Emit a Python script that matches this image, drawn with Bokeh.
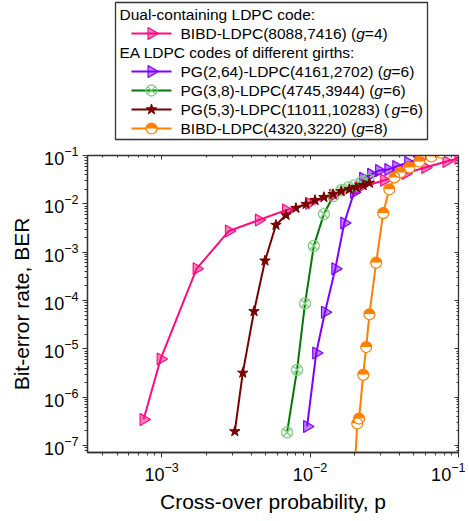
import math
from bokeh.plotting import figure
from bokeh.layouts import column
from bokeh.models import Range1d, FixedTicker, LogAxis, LogTickFormatter
from bokeh.core.properties import value
from bokeh.embed import file_html
from bokeh.resources import INLINE

FONT = "Liberation Sans"
AXC = "#333333"

# ---------------- data ----------------
bibd4_x = [7.55e-4, 9.84e-4, 1.72e-3, 2.84e-3, 4.52e-3, 6.89e-3, 9.84e-3, 1.43e-2,
           2.11e-2, 3.16e-2, 4.4e-2, 5.98e-2, 8.3e-2, 1.0e-1]
bibd4_y = [3.45e-7, 6.18e-6, 4.56e-4, 2.75e-3, 4.63e-3, 7.43e-3, 1.03e-2, 1.51e-2,
           2.1e-2, 3.07e-2, 4.27e-2, 5.67e-2, 7.53e-2, 8.8e-2]

pg264_x = [9.55e-3, 1.1e-2, 1.26e-2, 1.48e-2, 1.7e-2, 1.98e-2, 2.28e-2, 2.58e-2,
           2.92e-2, 3.37e-2, 3.81e-2, 4.59e-2, 5.37e-2]
pg264_y = [2.48e-7, 8.2e-6, 5.7e-5, 4.56e-4, 4.02e-3, 1.74e-2, 3.37e-2, 4.07e-2,
           4.92e-2, 5.16e-2, 5.94e-2, 7.18e-2, 8.28e-2]

pg38_x = [7.0e-3, 8.17e-3, 9.25e-3, 1.06e-2, 1.24e-2, 1.43e-2, 1.62e-2, 1.81e-2,
          1.98e-2, 2.21e-2, 2.47e-2]
pg38_y = [1.87e-7, 3.67e-6, 8.71e-5, 1.35e-3, 6.15e-3, 1.44e-2, 1.91e-2, 2.2e-2,
          2.42e-2, 2.79e-2, 3.21e-2]

pg53_x = [3.11e-3, 3.52e-3, 4.19e-3, 4.97e-3, 5.89e-3, 6.89e-3, 8.03e-3, 9.4e-3,
          1.08e-2, 1.24e-2, 1.43e-2, 1.62e-2, 1.84e-2, 2.05e-2, 2.28e-2, 2.51e-2]
pg53_y = [1.96e-7, 3.18e-6, 5.97e-5, 6.65e-4, 3.65e-3, 5.86e-3, 8.16e-3, 9.86e-3,
          1.19e-2, 1.37e-2, 1.58e-2, 1.82e-2, 2.0e-2, 2.2e-2, 2.42e-2, 2.7e-2]

bibd8_x = [2.01e-2, 2.08e-2, 2.14e-2, 2.28e-2, 2.39e-2, 2.51e-2, 2.79e-2, 3.11e-2,
           3.42e-2, 3.7e-2, 4.06e-2, 4.67e-2, 5.45e-2, 6.58e-2, 7.67e-2]
bibd8_y = [4.0e-8, 2.86e-7, 3.62e-7, 2.9e-6, 1.09e-5, 5.19e-5, 6.06e-4, 6.44e-3,
           2.0e-2, 3.53e-2, 4.48e-2, 5.67e-2, 7.53e-2, 9.55e-2, 0.115]

x_major = [1e-3, 1e-2, 1e-1]
y_major = [1e-7, 1e-6, 1e-5, 1e-4, 1e-3, 1e-2, 1e-1]

legend_headers = ["Dual-containing LDPC code:", "EA LDPC codes of different girths:"]
legend_names = ["BIBD-LDPC(8088,7416) (", "PG(2,64)-LDPC(4161,2702) (",
                "PG(3,8)-LDPC(4745,3944) (", "PG(5,3)-LDPC(11011,10283) (",
                "BIBD-LDPC(4320,3220) ("]
legend_girth = ["=4)", "=6)", "=6)", "=6)", "=8)"]

x_title = "Cross-over probability, p"
y_title = "Bit-error rate, BER"

# ---------------- styles ----------------
PINK, PURPLE, GREEN, LGREEN, BROWN, ORANGE = ("#ff0a80", "#8000ff", "#007a00",
                                             "#7fcf7f", "#7a0000", "#ff8000")
series = [
    (bibd4_x, bibd4_y, PINK, "tri"),
    (pg264_x, pg264_y, PURPLE, "tri"),
    (pg38_x, pg38_y, GREEN, "xbox"),
    (pg53_x, pg53_y, BROWN, "star"),
    (bibd8_x, bibd8_y, ORANGE, "half"),
]

# Arial / Liberation Sans advance widths (1/1000 em) for text layout
AW = {' ': 278, '(': 333, ')': 333, ',': 278, '-': 333, '.': 278, ':': 278, '=': 584,
      'A': 667, 'B': 667, 'C': 722, 'D': 722, 'E': 667, 'G': 778, 'I': 278, 'L': 556,
      'P': 667, 'R': 722, 'a': 556, 'b': 556, 'c': 500, 'd': 556, 'e': 556, 'f': 278,
      'g': 556, 'h': 556, 'i': 222, 'l': 222, 'n': 556, 'o': 556, 'p': 556, 'r': 333,
      's': 500, 't': 278, 'u': 556, 'v': 500, 'y': 500}
for d in "0123456789":
    AW[d] = 556


def tw(s, fs):
    return sum(AW.get(c, 556) for c in s) / 1000.0 * fs


def draw_marker(fig, kind, x, y, color, size=12):
    if kind == "tri":
        fig.scatter(x, y, marker="triangle", angle=-math.pi / 2, size=size,
                    fill_color=color, fill_alpha=0.5, line_color=color, line_width=1.2)
    elif kind == "xbox":
        fig.scatter(x, y, marker="circle_x", size=11, fill_color=None,
                    line_color=LGREEN, line_width=1.3)
    elif kind == "star":
        fig.scatter(x, y, marker="star", size=11, fill_color=color,
                    line_color=color, line_width=1)
    elif kind == "half":
        fig.wedge(x, y, radius=5.5, radius_units="screen", start_angle=0,
                  end_angle=math.pi, fill_color=color, line_color=None)
        fig.wedge(x, y, radius=5.5, radius_units="screen", start_angle=math.pi,
                  end_angle=2 * math.pi, fill_color="white", line_color=None)
        fig.scatter(x, y, marker="circle", size=11, fill_color=None,
                    line_color=color, line_width=1.2)


# page geometry (frames of the stacked figures share the same columns)
W = 465
FL, FR = 87, 7           # left / right borders -> frame spans x = 87 .. 458
XR = (FL, W - FR)        # data x in the legend figure == page x
LH = 143                 # legend figure height
MAIN_H = 378             # legend + main = 521
FRAME_T, FRAME_H = 12, 297

# ---------------- legend figure ----------------
lg = figure(width=W, height=LH, x_range=Range1d(*XR), y_range=Range1d(0, LH),
            x_axis_type=None, y_axis_type=None, output_backend="svg",
            toolbar_location=None, min_border_left=FL, min_border_right=FR,
            min_border_top=0, min_border_bottom=0, outline_line_color=None)
lg.quad(left=115, right=427, top=LH - 2, bottom=LH - 139, fill_color=None,
        line_color=AXC, line_width=1.3)
rows = [LH - (14 + 19 * i) for i in range(7)]
LFS = 15.5
lg.text(x=[119, 119], y=[rows[0], rows[2]], text=legend_headers,
        text_font=value(FONT), text_font_size=f"{LFS}px", text_baseline="middle",
        text_color="black")
entry_rows = [rows[1], rows[3], rows[4], rows[5], rows[6]]
tx0 = 180
g_x = [tx0 + tw(n, LFS) for n in legend_names]
e_x = [gx + tw("g", LFS) for gx in g_x]
lg.text(x=[tx0] * 5, y=entry_rows, text=legend_names, text_font=value(FONT),
        text_font_size=f"{LFS}px", text_baseline="middle", text_color="black")
lg.text(x=g_x, y=entry_rows, text=["g"] * 5, text_font=value(FONT),
        text_font_style="italic", text_font_size=f"{LFS}px", text_baseline="middle",
        text_color="black")
lg.text(x=e_x, y=entry_rows, text=legend_girth, text_font=value(FONT),
        text_font_size=f"{LFS}px", text_baseline="middle", text_color="black")
for (sx, sy, color, kind), ry in zip(series, entry_rows):
    lg.line([131, 171], [ry, ry], line_color=color, line_width=2)
    draw_marker(lg, kind, [151], [ry], color)

# ---------------- main figure ----------------
LX0, LX1 = -3.5, math.log10(0.1001)
LY0, LY1 = -7.144, math.log10(0.1001)
x_minor = [k * 10.0 ** e for e in range(-4, -1) for k in range(2, 10)
           if 10 ** LX0 <= k * 10.0 ** e <= 0.1]
y_minor = [k * 10.0 ** e for e in range(-8, -1) for k in range(2, 10)
           if 10 ** LY0 <= k * 10.0 ** e <= 0.1]

p = figure(width=W, height=MAIN_H, x_axis_type="log", y_axis_type="log",
           x_range=Range1d(10 ** LX0, 10 ** LX1), y_range=Range1d(10 ** LY0, 10 ** LY1),
           output_backend="svg", toolbar_location=None,
           min_border_left=FL, min_border_right=FR, min_border_top=FRAME_T,
           min_border_bottom=MAIN_H - FRAME_T - FRAME_H)
p.grid.visible = False
p.outline_line_color = AXC
p.outline_line_width = 1.3

for ax, maj, mnr in ((p.xaxis[0], x_major, x_minor), (p.yaxis[0], y_major, y_minor)):
    ax.ticker = FixedTicker(ticks=maj, minor_ticks=mnr)
    ax.formatter = LogTickFormatter()
    ax.axis_line_color = AXC
    ax.axis_line_width = 1.3
    ax.major_tick_line_color = AXC
    ax.minor_tick_line_color = AXC
    ax.major_tick_out = 5
    ax.major_tick_in = 0
    ax.minor_tick_out = 3
    ax.minor_tick_in = 0
    ax.major_label_text_font = FONT
    ax.major_label_text_font_size = "18px"
    ax.major_label_text_color = "black"
    ax.major_label_standoff = 4
    ax.axis_label_text_font = FONT
    ax.axis_label_text_font_size = "21px"
    ax.axis_label_text_font_style = "normal"
    ax.axis_label_text_color = "black"

p.yaxis[0].axis_label = y_title
p.yaxis[0].axis_label_standoff = 8
p.xaxis[0].axis_label = x_title
p.xaxis[0].axis_label_standoff = 6

for loc, maj, mnr in (("above", x_major, x_minor), ("right", y_major, y_minor)):
    m = LogAxis(ticker=FixedTicker(ticks=maj, minor_ticks=mnr),
                major_tick_in=4, major_tick_out=0, minor_tick_in=2, minor_tick_out=0,
                major_label_text_font_size="1px", major_label_text_alpha=0,
                major_label_standoff=0,
                axis_line_color=AXC, major_tick_line_color=AXC,
                minor_tick_line_color=AXC)
    p.add_layout(m, loc)

for sx, sy, color, kind in series:
    p.line(sx, sy, line_color=color, line_width=2)
for sx, sy, color, kind in series:
    draw_marker(p, kind, sx, sy, color)

layout = column(lg, p, spacing=0)
open("out.html", "w").write(file_html(layout, INLINE))
